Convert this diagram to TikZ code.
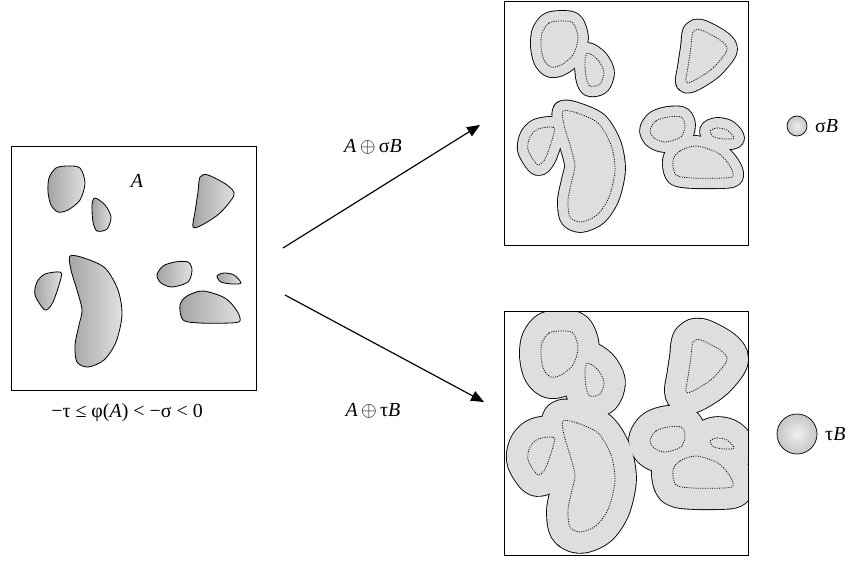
\documentclass[tikz,border=0pt]{standalone}
\usepackage{fontspec}
\setmainfont{Liberation Serif}
\usetikzlibrary{arrows.meta}
\definecolor{shadedark}{gray}{0.64}
\definecolor{shadelight}{gray}{0.88}
\definecolor{growfill}{gray}{0.87}

% the blobs of A, in the frame of the left box
\def\blobA{plot[smooth cycle] coordinates {(49,178) (56,168) (68,166) (80,168) (85,183) (80,200) (68,210) (58,212) (51,205) (48,192)}}
\def\blobB{plot[smooth cycle] coordinates {(95,198) (105,205) (111,217) (107,229) (97,231) (93,222) (92,205)}}
\def\blobC{plot[smooth cycle] coordinates {(200,177) (208,175) (227,185) (234,195) (220,213) (202,225) (193,227) (195,212) (198,192)}}
\def\blobD{plot[smooth cycle] coordinates {(45,274) (60,272) (61,278) (53,302) (45,310) (35,295) (37,282)}}
\def\blobE{plot[smooth cycle] coordinates {(70,256) (84,258) (105,268) (118,290) (122,315) (116,342) (104,360) (88,367) (77,362) (75,345) (79,325) (82,310) (77,290) (71,270)}}
\def\blobF{plot[smooth cycle] coordinates {(157,275) (163,266) (175,262) (188,262) (192,270) (188,282) (172,287) (161,283)}}
\def\blobG{plot[smooth cycle] coordinates {(217,276) (224,273) (234,275) (241,283) (232,284) (221,282)}}
\def\blobH{plot[smooth cycle] coordinates {(180,305) (187,296) (203,291) (225,298) (237,311) (240,321) (230,323) (200,323) (183,320)}}
\def\allblobs{\blobA,\blobB,\blobC,\blobD,\blobE,\blobF,\blobG,\blobH}

\tikzset{
  box/.style={draw, line width=0.6pt},
  blob/.style={draw, line width=0.7pt, left color=shadedark, right color=shadelight},
  growout/.style={draw=black, fill=black, line width=#1+1.5pt, line join=round},
  growin/.style={draw=growfill, fill=growfill, line width=#1, line join=round},
  orig/.style={dash pattern=on 0.9pt off 1.1pt, line width=0.65pt},
  lbl/.style={font=\fontsize{17}{20}\selectfont, inner sep=0pt}
}

\begin{document}
\begin{tikzpicture}[x=0.03cm, y=-0.03cm]
\useasboundingbox (0,0) rectangle (852,561);

% set A
\draw[box] (11,146) rectangle (256,390);
\foreach \b in \allblobs { \shade[blob] \b; }
\node[lbl] (labA) at (137,181) {\textit{A}};
\node[lbl] (cond) at (127,413) {−τ ≤ φ(\textit{A}) < −σ < 0};

% A dilated by sigma B
\begin{scope}
\clip (504,1) rectangle (748,245);
\begin{scope}[shift={(493,-145)}]
\foreach \b in \allblobs { \path[growout=17pt] \b; }
\foreach \b in \allblobs { \path[growin=17pt] \b; }
\foreach \b in \allblobs { \draw[orig] \b; }
\end{scope}
\end{scope}
\draw[box] (504,1) rectangle (748,245);

% A dilated by tau B
\begin{scope}
\clip (504,311) rectangle (748,555);
\begin{scope}[shift={(493,165)}]
\foreach \b in \allblobs { \path[growout=35.7pt] \b; }
\foreach \b in \allblobs { \path[growin=35.7pt] \b; }
\foreach \b in \allblobs { \draw[orig] \b; }
\end{scope}
\end{scope}
\draw[box] (504,311) rectangle (748,555);

% structuring elements
\shade[draw, line width=0.6pt, inner color=gray!12, outer color=gray!45] (797,126) circle (10);
\node[lbl, anchor=west] (sigB) at (815,126) {σ\textit{B}};
\shade[draw, line width=0.6pt, inner color=gray!12, outer color=gray!45] (797,434) circle (20);
\node[lbl, anchor=west] (tauB) at (825,434) {τ\textit{B}};

% arrows
\coordinate (up0) at (283,248);
\coordinate (up1) at (480,125);
\coordinate (dn0) at (285,295);
\coordinate (dn1) at (484,402);
\draw[line width=1pt, -{Triangle[length=11pt, width=9pt]}] (up0) -- (up1);
\draw[line width=1pt, -{Triangle[length=11pt, width=9pt]}] (dn0) -- (dn1);
\node[lbl] (opS) at (373,147) {\textit{A}\,$\oplus$\,σ\textit{B}};
\node[lbl] (opT) at (373,411) {\textit{A}\,$\oplus$\,τ\textit{B}};
\end{tikzpicture}
\end{document}
